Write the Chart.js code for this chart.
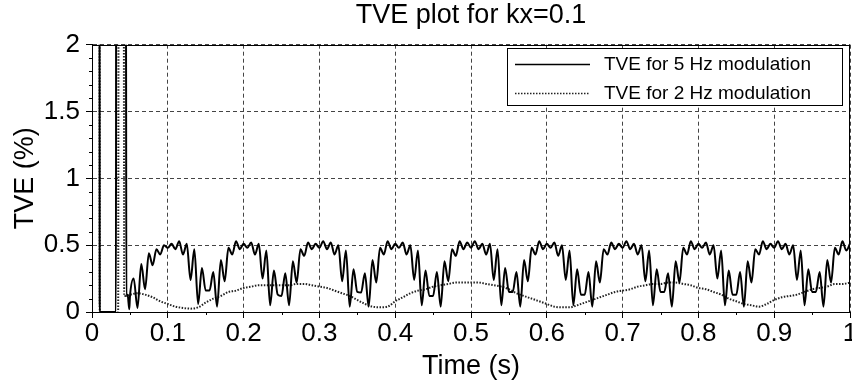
<!DOCTYPE html>
<html>
<head>
<meta charset="utf-8">
<title>TVE plot for kx=0.1</title>
<script src="https://cdn.jsdelivr.net/npm/chart.js@4.4.1/dist/chart.umd.min.js"></script>
<style>
  html, body { margin: 0; padding: 0; background: #fff; overflow: hidden; }
  #wrap { width: 852px; height: 388px; position: relative; }
</style>
</head>
<body>
<div id="wrap"><canvas id="tve-chart"></canvas></div>
<script>
  const xTickLabels = ['0', '0.1', '0.2', '0.3', '0.4', '0.5', '0.6', '0.7', '0.8', '0.9', '1'];
  const yTickLabels = ['0', '0.5', '1', '1.5', '2'];
  const xMinorTicks = [0.05, 0.15, 0.25, 0.35, 0.45, 0.55, 0.65, 0.75, 0.85, 0.95];
  const yMinorTicks = [0.1, 0.2, 0.3, 0.4, 0.6, 0.7, 0.8, 0.9, 1.1, 1.2, 1.3, 1.4, 1.6, 1.7, 1.8, 1.9];

  // start-up transient (values above 2 run off the top of the plot)
  const fiveHzLeadTimes = [0, 0.0099, 0.0102, 0.0316, 0.0319, 0.0447, 0.0453, 0.047, 0.0492];
  const fiveHzLeadValues = [3, 3, 0, 0, 3, 3, 0.12, 0.13, 0.02];
  // 5 Hz modulation, sampled every 5 ms from 0.05 s to 1 s
  const fiveHzStart = 0.05;
  const fiveHzStep = 0.005;
  const fiveHzValues = [
    0.11, 0.25, 0.03, 0.36, 0.17, 0.44, 0.35, 0.47, 0.43, 0.50,
    0.48, 0.51, 0.47, 0.53, 0.43, 0.51, 0.24, 0.47, 0.06, 0.33,
    0.16, 0.16, 0.30, 0.04, 0.39, 0.23, 0.48, 0.43, 0.53, 0.47,
    0.51, 0.48, 0.52, 0.43, 0.51, 0.25, 0.46, 0.05, 0.31, 0.13,
    0.12, 0.29, 0.05, 0.38, 0.22, 0.47, 0.42, 0.52, 0.47, 0.51,
    0.48, 0.53, 0.47, 0.52, 0.43, 0.50, 0.23, 0.46, 0.04, 0.32,
    0.15, 0.145, 0.29, 0.04, 0.39, 0.22, 0.48, 0.43, 0.53, 0.47,
    0.51, 0.48, 0.52, 0.43, 0.50, 0.24, 0.46, 0.05, 0.31, 0.12,
    0.12, 0.30, 0.04, 0.38, 0.23, 0.47, 0.42, 0.53, 0.47, 0.52,
    0.48, 0.53, 0.47, 0.51, 0.43, 0.51, 0.24, 0.47, 0.05, 0.33,
    0.15, 0.15, 0.30, 0.04, 0.39, 0.23, 0.48, 0.43, 0.53, 0.47,
    0.51, 0.48, 0.52, 0.42, 0.50, 0.24, 0.46, 0.05, 0.32, 0.13,
    0.13, 0.30, 0.04, 0.38, 0.22, 0.47, 0.43, 0.52, 0.47, 0.51,
    0.48, 0.53, 0.47, 0.51, 0.43, 0.50, 0.23, 0.46, 0.05, 0.32,
    0.15, 0.15, 0.29, 0.04, 0.38, 0.22, 0.48, 0.43, 0.53, 0.47,
    0.51, 0.48, 0.52, 0.43, 0.50, 0.25, 0.46, 0.05, 0.31, 0.13,
    0.13, 0.30, 0.04, 0.38, 0.22, 0.47, 0.43, 0.53, 0.47, 0.51,
    0.48, 0.53, 0.47, 0.51, 0.43, 0.50, 0.24, 0.46, 0.05, 0.32,
    0.15, 0.15, 0.30, 0.04, 0.39, 0.22, 0.48, 0.43, 0.53, 0.46,
    0.51
  ];

  const twoHzLeadTimes = [0, 0.0099, 0.0102, 0.0345, 0.0352, 0.0418, 0.0425];
  const twoHzLeadValues = [3, 3, 0, 0, 3, 3, 0.12];
  // 2 Hz modulation, sampled every 10 ms from 0.05 s to 1 s
  const twoHzStart = 0.05;
  const twoHzStep = 0.01;
  const twoHzValues = [
    0.13, 0.14, 0.13, 0.11, 0.08,
    0.06, 0.04, 0.03, 0.025, 0.035,
    0.07, 0.10, 0.12, 0.15, 0.16,
    0.18, 0.19, 0.20, 0.20, 0.20,
    0.20, 0.20, 0.21, 0.21, 0.20,
    0.19, 0.18, 0.16, 0.14, 0.12,
    0.09, 0.06, 0.04, 0.035, 0.04,
    0.08, 0.11, 0.14, 0.16, 0.17,
    0.19, 0.20, 0.21, 0.22, 0.22,
    0.22, 0.22, 0.21, 0.20, 0.19,
    0.17, 0.14, 0.12, 0.10, 0.08,
    0.06, 0.04, 0.035, 0.035, 0.05,
    0.07, 0.09, 0.11, 0.13, 0.15,
    0.16, 0.17, 0.19, 0.20, 0.21,
    0.21, 0.22, 0.22, 0.21, 0.20,
    0.18, 0.17, 0.15, 0.13, 0.10,
    0.08, 0.06, 0.05, 0.04, 0.06,
    0.09, 0.11, 0.12, 0.13, 0.15,
    0.17, 0.18, 0.19, 0.21, 0.21,
    0.22
  ];

  function toPoints(leadTimes, leadValues, start, step, values) {
    const pts = leadTimes.map((t, i) => ({ x: t, y: leadValues[i] }));
    values.forEach((v, i) => pts.push({ x: +(start + i * step).toFixed(4), y: v }));
    return pts;
  }

  const fontFamily = "'Liberation Sans', Arial, sans-serif";
  Chart.defaults.font.family = fontFamily;
  Chart.defaults.color = '#000';

  const frameAndLegend = {
    id: 'frameAndLegend',
    afterDatasetsDraw(chart) {
      const { ctx, chartArea: area, scales } = chart;
      ctx.save();
      ctx.strokeStyle = '#000';
      ctx.lineWidth = 1;
      ctx.beginPath();
      xMinorTicks.forEach(v => {
        const px = Math.round(scales.x.getPixelForValue(v)) + 0.5;
        ctx.moveTo(px, area.bottom);
        ctx.lineTo(px, area.bottom + 3);
      });
      yMinorTicks.forEach(v => {
        const py = Math.round(scales.y.getPixelForValue(v)) + 0.5;
        ctx.moveTo(area.left - 3, py);
        ctx.lineTo(area.left, py);
      });
      ctx.stroke();
      ctx.strokeRect(Math.round(area.left) + 0.5, Math.round(area.top) + 0.5,
        Math.round(area.width) - 1, Math.round(area.height));
      ctx.restore();
    },
    afterDraw(chart) {
      const { ctx, chartArea: area } = chart;
      const boxW = 335, boxH = 57;
      const left = Math.round(area.right - boxW - 8);
      const top = Math.round(area.top + 3);
      ctx.save();
      ctx.fillStyle = '#fff';
      ctx.fillRect(left, top, boxW, boxH);
      ctx.strokeStyle = '#000';
      ctx.lineWidth = 1;
      ctx.strokeRect(left + 0.5, top + 0.5, boxW, boxH);
      ctx.font = '19px ' + fontFamily;
      ctx.textBaseline = 'middle';
      chart.data.datasets.forEach((ds, i) => {
        const y = top + 16.5 + i * 29;
        ctx.beginPath();
        ctx.setLineDash(ds.borderDash || []);
        ctx.lineWidth = ds.borderDash ? 1.3 : 1.4;
        ctx.strokeStyle = ds.borderColor;
        ctx.moveTo(left + 8, y);
        ctx.lineTo(left + 83, y);
        ctx.stroke();
        ctx.setLineDash([]);
        ctx.fillStyle = '#000';
        ctx.fillText(ds.label, left + 97, y);
      });
      ctx.restore();
    }
  };

  new Chart(document.getElementById('tve-chart'), {
    type: 'line',
    data: {
      datasets: [{
        label: 'TVE for 5 Hz modulation',
        data: toPoints(fiveHzLeadTimes, fiveHzLeadValues, fiveHzStart, fiveHzStep, fiveHzValues),
        borderColor: '#000',
        borderWidth: 2,
        pointRadius: 0,
        cubicInterpolationMode: 'monotone'
      }, {
        label: 'TVE for 2 Hz modulation',
        data: toPoints(twoHzLeadTimes, twoHzLeadValues, twoHzStart, twoHzStep, twoHzValues),
        borderColor: '#222',
        borderWidth: 2,
        borderDash: [1.5, 1.5],
        pointRadius: 0,
        cubicInterpolationMode: 'monotone'
      }]
    },
    options: {
      responsive: true,
      maintainAspectRatio: false,
      animation: false,
      events: [],
      layout: { padding: { left: 0, right: 2, top: 0, bottom: 0 } },
      plugins: {
        legend: { display: false },
        tooltip: { enabled: false },
        title: {
          display: true,
          fullSize: false,
          text: 'TVE plot for kx=0.1',
          color: '#000',
          font: { size: 27, weight: 'normal' },
          padding: { top: -1, bottom: 13.3 }
        }
      },
      scales: {
        x: {
          type: 'linear',
          min: 0,
          max: 1,
          ticks: {
            stepSize: 0.1,
            autoSkip: false,
            maxRotation: 0,
            padding: 3,
            color: '#000',
            font: { size: 26, lineHeight: 1 },
            callback: (value, index) => xTickLabels[index]
          },
          grid: { color: '#444', lineWidth: 1, tickLength: 6, tickColor: '#000' },
          border: { color: '#000', width: 1, dash: [4, 3] },
          title: {
            display: true,
            text: 'Time (s)',
            color: '#000',
            font: { size: 27 },
            padding: { top: 0, bottom: 4.8 }
          },
          afterFit(scale) {
            scale.height = 76;
            scale.paddingLeft = 0;
            scale.paddingRight = 0;
          }
        },
        y: {
          min: 0,
          max: 2,
          ticks: {
            stepSize: 0.5,
            padding: 6,
            color: '#000',
            font: { size: 26 },
            callback: (value, index) => yTickLabels[index]
          },
          grid: { color: '#444', lineWidth: 1, tickLength: 6, tickColor: '#000' },
          border: { color: '#000', width: 1, dash: [4, 3] },
          title: {
            display: true,
            text: 'TVE (%)',
            color: '#000',
            font: { size: 27 },
            padding: { top: 9.3, bottom: 0 }
          },
          afterFit(scale) {
            scale.width = 92;
          }
        }
      }
    },
    plugins: [frameAndLegend]
  });
</script>
</body>
</html>
